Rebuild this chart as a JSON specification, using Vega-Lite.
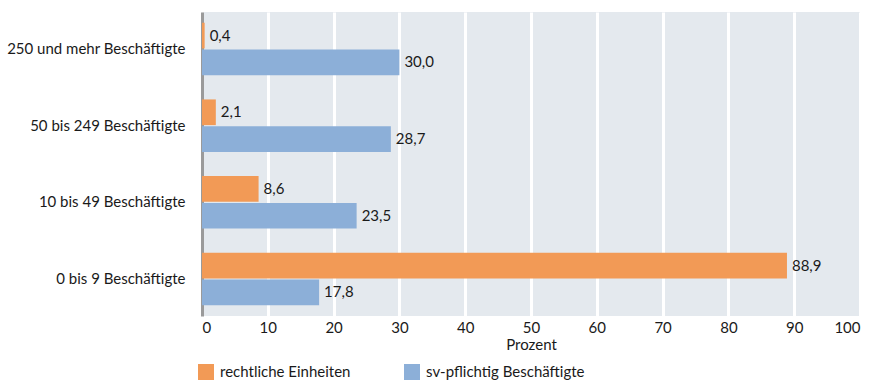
{
  "$schema": "https://vega.github.io/schema/vega-lite/v6.json",
  "width": 658,
  "height": 304,
  "autosize": {"type": "none"},
  "padding": {"left": 202, "top": 12, "right": 15, "bottom": 64},
  "background": "white",
  "config": {
    "font": "Lato",
    "locale": {"number": {"decimal": ",", "thousands": ".", "grouping": [3], "currency": ["", " €"]}},
    "view": {"fill": "#e4e9ee", "stroke": null},
    "axis": {"labelFont": "Lato", "titleFont": "Lato", "labelColor": "#1a1a1a", "titleColor": "#1a1a1a"}
  },
  "data": {
    "values": [
      {"kat": "250 und mehr Beschäftigte", "serie": "rechtliche Einheiten", "wert": 0.4},
      {"kat": "250 und mehr Beschäftigte", "serie": "sv-pflichtig Beschäftigte", "wert": 30.0},
      {"kat": "50 bis 249 Beschäftigte", "serie": "rechtliche Einheiten", "wert": 2.1},
      {"kat": "50 bis 249 Beschäftigte", "serie": "sv-pflichtig Beschäftigte", "wert": 28.7},
      {"kat": "10 bis 49 Beschäftigte", "serie": "rechtliche Einheiten", "wert": 8.6},
      {"kat": "10 bis 49 Beschäftigte", "serie": "sv-pflichtig Beschäftigte", "wert": 23.5},
      {"kat": "0 bis 9 Beschäftigte", "serie": "rechtliche Einheiten", "wert": 88.9},
      {"kat": "0 bis 9 Beschäftigte", "serie": "sv-pflichtig Beschäftigte", "wert": 17.8}
    ]
  },
  "encoding": {
    "y": {
      "field": "kat", "type": "nominal", "title": null,
      "sort": ["250 und mehr Beschäftigte", "50 bis 249 Beschäftigte", "10 bis 49 Beschäftigte", "0 bis 9 Beschäftigte"],
      "scale": {"paddingInner": 0.316, "paddingOuter": 0.14},
      "axis": {"ticks": false, "domainColor": "#9a9a9a", "domainWidth": 3, "labelFontSize": 15, "labelPadding": 17, "grid": false}
    },
    "yOffset": {
      "field": "serie", "type": "nominal",
      "sort": ["rechtliche Einheiten", "sv-pflichtig Beschäftigte"],
      "scale": {"paddingInner": 0.04}
    },
    "x": {
      "field": "wert", "type": "quantitative", "title": "Prozent",
      "scale": {"domain": [0, 100], "nice": false},
      "axis": {"values": [0,10,20,30,40,50,60,70,80,90,100], "ticks": false, "domain": false, "grid": true, "gridColor": "white", "gridWidth": 3, "gridOpacity": 1, "labelFontSize": 15, "labelPadding": 4, "titleFontSize": 15, "titleFontWeight": "normal", "titlePadding": 2}
    }
  },
  "layer": [
    {
      "mark": {"type": "bar"},
      "encoding": {
        "color": {
          "field": "serie", "type": "nominal", "title": null,
          "sort": ["rechtliche Einheiten", "sv-pflichtig Beschäftigte"],
          "scale": {"range": ["#f29a56", "#8cafd8"]},
          "legend": {"orient": "none", "legendX": -4, "legendY": 352, "direction": "horizontal", "symbolType": "square", "symbolSize": 256, "symbolStrokeWidth": 0, "symbolOpacity": 1, "labelFontSize": 15, "labelColor": "#1a1a1a", "labelFont": "Lato", "columnPadding": 53, "labelOffset": 6}
        }
      }
    },
    {
      "mark": {"type": "text", "align": "left", "baseline": "middle", "dx": 5, "fontSize": 15, "color": "#1a1a1a", "font": "Lato"},
      "encoding": {
        "text": {"field": "wert", "type": "quantitative", "format": ".1f"}
      }
    }
  ]
}
